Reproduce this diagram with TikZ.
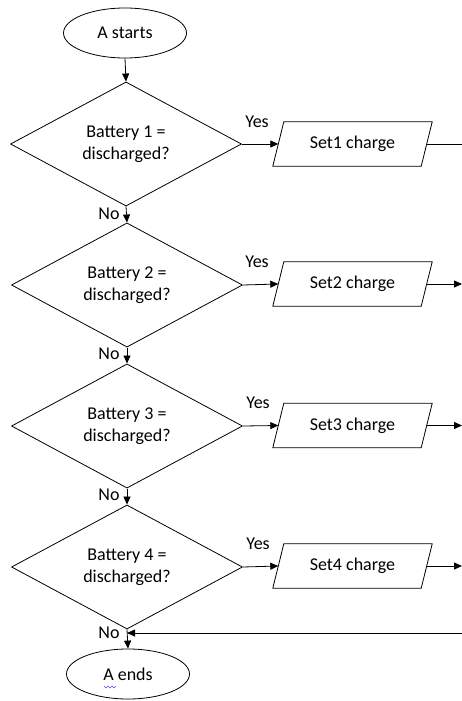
\documentclass[tikz,border=0pt]{standalone}
\usepackage{fontspec}
\setmainfont{Carlito}
\usetikzlibrary{shapes.geometric,arrows.meta}
\begin{document}
\begin{tikzpicture}[x=1pt,y=-1pt,
  every node/.style={font=\fontsize{18}{22}\selectfont, text=black},
  base/.style={draw=black, line width=0.8pt, inner sep=0pt},
  term/.style={base, ellipse, minimum width=123pt, minimum height=50pt},
  decision/.style={base, diamond, minimum width=231pt, minimum height=114pt, align=center},
  io/.style={inner sep=0pt, rectangle, minimum width=148pt, minimum height=44pt},
  conn/.style={line width=0.8pt, draw=black},
  arr/.style={conn, -{Triangle[length=8pt,width=7pt]}},
  lbl/.style={inner sep=0pt}
]
\useasboundingbox (0,0) rectangle (462,701);

\node[term] (start) at (125,33) {A starts};
\node[decision] (d1) at (126,144) {Battery 1 =\\discharged?};
\node[decision] (d2) at (127,285) {Battery 2 =\\discharged?};
\node[decision] (d3) at (127,426) {Battery 3 =\\discharged?};
\node[decision] (d4) at (127,567) {Battery 4 =\\discharged?};
\node[term] (end) at (128,674) {A ends};

\node[io] (s1) at (352.5,144) {Set1 charge};
\node[io] (s2) at (352.5,284) {Set2 charge};
\node[io] (s3) at (352.5,425.5) {Set3 charge};
\node[io] (s4) at (352.5,566) {Set4 charge};
\foreach \s in {s1,s2,s3,s4}{
  \draw[conn, line join=miter] ([xshift=-5.5pt]\s.south west) -- ([xshift=5.5pt]\s.north west)
    -- ([xshift=5.5pt]\s.north east) -- ([xshift=-5.5pt]\s.south east) -- cycle;
}

\coordinate (o1) at (462,144);
\coordinate (o2) at (462,284);
\coordinate (o3) at (462,425.5);
\coordinate (o4) at (462,566);
\coordinate (r) at (462,633);
\coordinate (m) at (127,633);

\draw[arr] (start.south) -- (d1.north);
\draw[arr] (d1.south) -- (d2.north);
\draw[arr] (d2.south) -- (d3.north);
\draw[arr] (d3.south) -- (d4.north);
\draw[arr] (d4.south) -- (end.north);

\draw[arr] (d1.east) -- (s1.west);
\draw[arr] (d2.east) -- (s2.west);
\draw[arr] (d3.east) -- (s3.west);
\draw[arr] (d4.east) -- (s4.west);

\draw[conn] (s1.east) -- (o1);
\draw[arr] (s2.east) -- (o2);
\draw[arr] (s3.east) -- (o3);
\draw[arr] (s4.east) -- (o4);
\draw[arr] (r) -- (m);

\node[lbl] (y1) at (257,122) {Yes};
\node[lbl] (y2) at (257,262) {Yes};
\node[lbl] (y3) at (258,403) {Yes};
\node[lbl] (y4) at (258,544) {Yes};
\node[lbl] (n1) at (109,214) {No};
\node[lbl] (n2) at (109,354) {No};
\node[lbl] (n3) at (109,495) {No};
\node[lbl] (n4) at (109,633) {No};

% spell-check squiggle under "A"
\draw[blue!70, line width=0.6pt] (104,686) -- ++(2,2) -- ++(2,-2) -- ++(2,2) -- ++(2,-2) -- ++(2,2) -- ++(2,-2);
\end{tikzpicture}
\end{document}
